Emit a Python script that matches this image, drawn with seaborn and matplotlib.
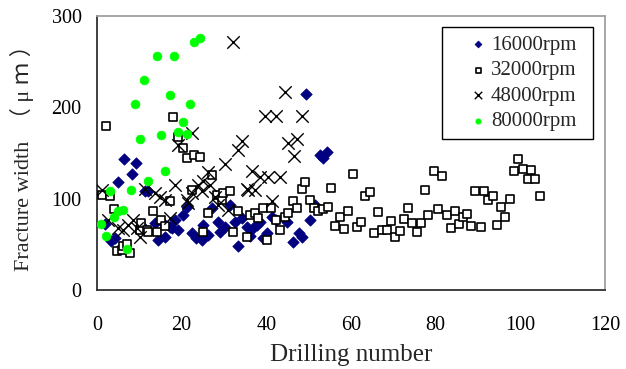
import matplotlib
matplotlib.use("Agg")
import matplotlib.pyplot as plt
import seaborn as sns
import pandas as pd

# ---- data ----
x_16000 = [2.0, 3.3, 4.2, 5.0, 6.4, 8.2, 9.1, 10.5, 11.3, 12.1, 13.7, 14.5, 15.3, 16.1, 17.2, 17.6,
           18.4, 19.2, 20.4, 21.2, 22.4, 23.5, 24.7, 25.1, 26.3, 27.1, 28.6, 29.1, 30.2, 31.4, 32.6,
           33.4, 34.2, 35.4, 36.1, 36.9, 37.7, 38.5, 39.3, 40.1, 41.3, 42.4, 44.8, 46.4, 47.6, 48.4,
           49.4, 50.3, 51.5, 52.7, 53.5, 54.4]
y_16000 = [72, 54, 57, 118, 143, 127, 139, 71, 108, 108, 73, 55, 75, 58, 69, 68,
           77, 66, 82, 91, 62, 57, 55, 71, 60, 90, 75, 64, 69, 93, 75,
           48, 79, 69, 59, 68, 71, 75, 57, 62, 80, 77, 75, 53, 62, 58,
           215, 77, 93, 148, 145, 151]

x_32000 = [1.1, 2.1, 3.1, 3.9, 4.7, 5.8, 6.2, 7.0, 7.8, 10.2, 10.5, 11.7, 12.1, 13.3, 14.1, 15.0,
           16.1, 17.2, 18.0, 19.1, 20.2, 21.2, 22.4, 22.9, 24.3, 25.1, 26.2, 27.1, 28.3, 29.5, 29.8,
           31.4, 32.2, 33.4, 35.4, 36.1, 37.3, 38.1, 39.3, 40.1, 41.0, 42.4, 43.2, 44.4, 45.2, 46.4,
           47.2, 48.4, 49.1, 50.3, 51.3, 52.3, 53.5, 54.6, 55.3, 56.2, 57.4, 58.4, 59.3, 60.5, 61.4,
           62.3, 63.3, 64.5, 65.4, 66.3, 67.3, 68.4, 69.4, 70.4, 71.6, 72.5, 73.4, 74.3, 75.5, 76.5,
           77.4, 78.3, 79.5, 80.5, 81.4, 82.6, 83.6, 84.5, 85.4, 86.5, 87.4, 88.3, 89.4, 90.6, 91.5,
           92.4, 93.6, 94.6, 95.4, 96.4, 97.6, 98.6, 99.5, 100.7, 101.7, 102.5, 103.5, 104.7]
y_32000 = [104, 180, 103, 89, 43, 44, 48, 50, 41, 66, 73, 66, 64, 87, 64, 77,
           70, 97, 189, 167, 155, 144, 110, 148, 146, 64, 84, 126, 104, 99, 106,
           108, 64, 86, 58, 82, 84, 79, 90, 55, 90, 77, 66, 80, 84, 97,
           90, 111, 118, 99, 90, 86, 89, 91, 112, 70, 80, 67, 86, 127, 69,
           75, 103, 107, 62, 85, 66, 66, 76, 58, 65, 78, 90, 73, 64, 73,
           110, 82, 130, 89, 125, 82, 68, 87, 72, 80, 83, 70, 108, 69, 108,
           98, 103, 71, 91, 80, 100, 130, 143, 133, 121, 131, 121, 103]

x_48000 = [1.1, 2.7, 5.0, 6.2, 7.4, 8.6, 9.4, 10.2, 11.3, 13.7, 14.9, 16.1, 17.2, 18.4, 19.2, 21.2,
           21.6, 22.4, 22.4, 23.9, 24.7, 25.1, 26.3, 26.7, 27.9, 28.6, 30.2, 31.0, 32.2, 33.4, 34.3,
           35.4, 35.7, 37.3, 36.5, 38.5, 39.8, 40.5, 41.3, 42.4, 43.2, 44.4, 45.2, 46.6, 47.2, 48.4]
y_48000 = [110, 77, 68, 66, 71, 77, 68, 58, 111, 106, 102, 99, 79, 115, 159, 99,
           95, 172, 106, 115, 108, 119, 129, 115, 102, 93, 138, 88, 272, 153, 163,
           111, 110, 110, 130, 124, 190, 124, 97, 190, 124, 217, 161, 147, 165, 190]

x_80000 = [1.0, 2.1, 3.1, 4.0, 5.0, 6.1, 7.2, 8.0, 8.9, 10.2, 11.0, 12.0, 14.1, 15.0, 16.0, 17.2,
           18.1, 19.1, 20.3, 21.2, 22.0, 23.0, 24.3]
y_80000 = [72, 59, 108, 80, 86, 88, 45, 109, 204, 165, 230, 119, 256, 170, 130, 214,
           256, 173, 184, 171, 204, 271, 276]

series_labels = ["16000rpm", "32000rpm", "48000rpm", "80000rpm"]
x_ticks = [0, 20, 40, 60, 80, 100, 120]
y_ticks = [0, 100, 200, 300]

frames = []
for lab, xs, ys in zip(series_labels, [x_16000, x_32000, x_48000, x_80000],
                       [y_16000, y_32000, y_48000, y_80000]):
    frames.append(pd.DataFrame({"Drilling number": xs, "Fracture width": ys, "Speed": lab}))
df = pd.concat(frames, ignore_index=True)

sns.set_style("white")
plt.rcParams["font.family"] = ["Liberation Serif", "Noto Sans CJK SC", "DejaVu Sans"]

fig = plt.figure(figsize=(6.26, 3.69), dpi=100)
ax = fig.add_axes([97 / 626, 1 - 290 / 369, 508 / 626, 274 / 369])

styles = {
    "16000rpm": dict(marker="D", s=34, color="#000080", edgecolor="#000080", linewidth=0.5),
    "32000rpm": dict(marker="s", s=36, facecolor="white", edgecolor="black", linewidth=1.2),
    "48000rpm": dict(marker="x", s=80, color="black", linewidth=1.0),
    "80000rpm": dict(marker="o", s=40, color="#00FF00", edgecolor="#00FF00", linewidth=0.5),
}
for lab in series_labels:
    sub = df[df["Speed"] == lab]
    sns.scatterplot(data=sub, x="Drilling number", y="Fracture width", ax=ax,
                    label=lab, zorder=3, **styles[lab])

ax.set_xlim(0, 120)
ax.set_ylim(0, 300)
ax.set_xticks(x_ticks)
ax.set_yticks(y_ticks)
ax.tick_params(direction="in", length=5, width=1, labelsize=14.5, colors="black")
ax.tick_params(axis="y", pad=11)
ax.tick_params(axis="x", pad=19)
for side in ["top", "right"]:
    ax.spines[side].set_color("#a0a0a0")
    ax.spines[side].set_linewidth(1.3)
for side in ["left", "bottom"]:
    ax.spines[side].set_color("#303030")
    ax.spines[side].set_linewidth(1.3)

ax.set_xlabel("Drilling number", fontsize=18, labelpad=6)
ax.set_ylabel("Fracture width  （ μ ｍ ）", fontsize=16, labelpad=13)

leg = ax.legend(loc="upper left", bbox_to_anchor=(0.679, 0.5, 0.297, 0.46),
                mode="expand", borderaxespad=0, fontsize=15,
                frameon=True, fancybox=False, edgecolor="black", framealpha=1,
                borderpad=0.4, labelspacing=0.28, handletextpad=-0.7,
                handlelength=2.65, markerscale=0.6)
leg.get_frame().set_linewidth(1.0)

fig.savefig("out.png", dpi=100)
